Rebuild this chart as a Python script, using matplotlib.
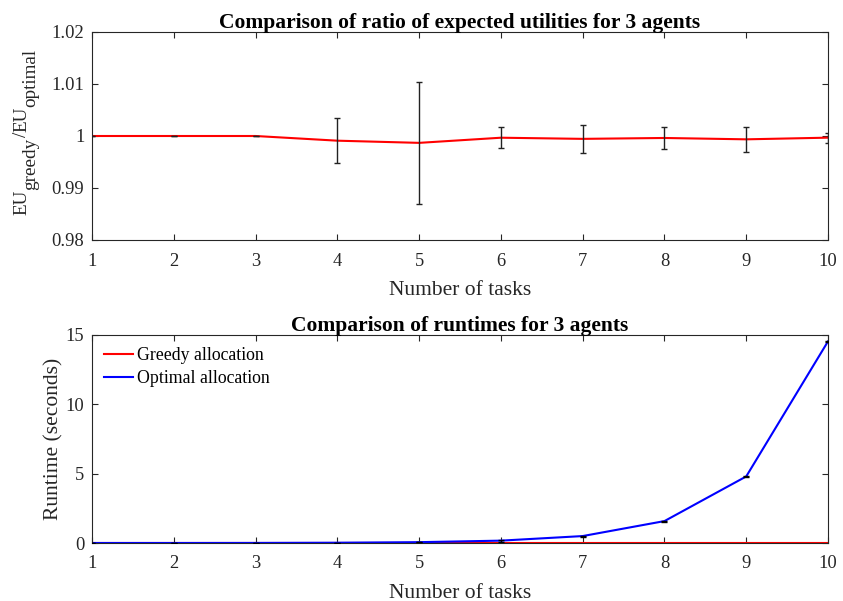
import numpy as np
import matplotlib.pyplot as plt

plt.rcParams['font.family'] = ['Liberation Serif', 'DejaVu Serif']

tasks = [1, 2, 3, 4, 5, 6, 7, 8, 9, 10]
ratio_mean = [1.0, 1.0, 1.0, 0.9991, 0.99868, 0.99967, 0.99945, 0.99962, 0.99936, 0.99968]
ratio_err = [0.00003, 0.00003, 0.00003, 0.0043, 0.01177, 0.0020, 0.00272, 0.0022, 0.0024, 0.00097]

greedy_runtime = [0.0001, 0.0001, 0.0002, 0.0002, 0.0003, 0.0003, 0.0004, 0.0004, 0.0005, 0.0005]
optimal_runtime = [0.0003, 0.001, 0.005, 0.02, 0.06, 0.17, 0.50, 1.58, 4.80, 14.54]
optimal_err = [0.0, 0.0, 0.0, 0.005, 0.01, 0.08, 0.04, 0.03, 0.03, 0.06]

# pieces of the top y label: (text, baseline shift in pixels)
ylabel_pieces = [('EU', 0), ('greedy', 9), ('/', 0), ('EU', 0), ('optimal', 9)]

TEXT_GREY = '#262626'


def style_axes(ax):
    ax.tick_params(direction='in', top=True, right=True, labelsize=13.3, length=4,
                   colors=TEXT_GREY, labelcolor=TEXT_GREY)
    ax.tick_params(axis='x', pad=9)
    ax.tick_params(axis='y', pad=5.5)
    for s in ax.spines.values():
        s.set_linewidth(0.8)
        s.set_color(TEXT_GREY)


def chained_ylabel(ax, pieces, x0, y0, size):
    # rotated label built from pieces so the subscripts keep full size
    prev = None
    for text, shift in pieces:
        if prev is None:
            prev = ax.annotate(text, xy=(x0 + shift, y0), xycoords='figure pixels',
                               rotation=90, rotation_mode='anchor', ha='left',
                               va='baseline', fontsize=size, color=TEXT_GREY,
                               annotation_clip=False)
        else:
            prev = ax.annotate(text, xy=(x0 + shift, 1), xycoords=('figure pixels', prev),
                               rotation=90, rotation_mode='anchor', ha='left',
                               va='baseline', fontsize=size, color=TEXT_GREY,
                               annotation_clip=False)


def main():
    fig = plt.figure(figsize=(8.43, 6.01), dpi=100)
    ax1 = fig.add_axes([92 / 843, 1 - 240 / 601, 736 / 843, 208 / 601])
    ax2 = fig.add_axes([92 / 843, 1 - 543 / 601, 736 / 843, 208 / 601])

    ax1.plot(tasks, ratio_mean, color='red', lw=1.5, zorder=2)
    ax1.errorbar(tasks, ratio_mean, yerr=ratio_err, fmt='none', ecolor='#222222',
                 elinewidth=1.0, capsize=2, capthick=1.0, zorder=3)
    ax1.set_xlim(1, 10)
    ax1.set_ylim(0.98, 1.02)
    ax1.set_xticks(tasks)
    ax1.set_yticks([0.98, 0.99, 1.0, 1.01, 1.02])
    ax1.set_yticklabels(['0.98', '0.99', '1', '1.01', '1.02'])
    ax1.set_xlabel('Number of tasks', fontsize=15.5, labelpad=8, color=TEXT_GREY)
    ax1.set_title('Comparison of ratio of expected utilities for 3 agents',
                  fontsize=15.5, fontweight='bold', pad=3)
    chained_ylabel(ax1, ylabel_pieces, 26, 601 - 215, 13.8)
    style_axes(ax1)

    ax2.plot(tasks, greedy_runtime, color='red', lw=1.5, label='Greedy allocation')
    ax2.plot(tasks, optimal_runtime, color='blue', lw=1.5, label='Optimal allocation')
    ax2.errorbar(tasks, optimal_runtime, yerr=optimal_err, fmt='none', ecolor='black',
                 elinewidth=1.0, capsize=2, capthick=1.0, zorder=3)
    ax2.set_xlim(1, 10)
    ax2.set_ylim(0, 15)
    ax2.set_xticks(tasks)
    ax2.set_yticks([0, 5, 10, 15])
    ax2.set_xlabel('Number of tasks', fontsize=15.5, labelpad=8, color=TEXT_GREY)
    ax2.set_ylabel('Runtime (seconds)', fontsize=15.5, labelpad=1.5, color=TEXT_GREY)
    ax2.set_title('Comparison of runtimes for 3 agents', fontsize=15.5,
                  fontweight='bold', pad=3)
    ax2.legend(loc='upper left', frameon=False, fontsize=12.8, handlelength=1.6,
               handletextpad=0.25, borderaxespad=0.3, borderpad=0.4,
               labelspacing=0.3)
    style_axes(ax2)

    fig.savefig('out.png', dpi=100)


if __name__ == '__main__':
    main()
